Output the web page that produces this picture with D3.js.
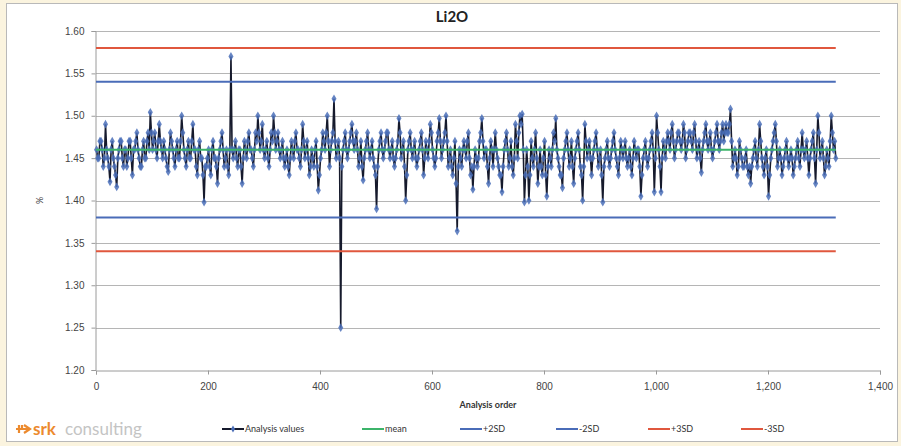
<!DOCTYPE html>
<html>
<head>
<meta charset="utf-8">
<script src="https://cdn.jsdelivr.net/npm/d3@7"></script>
<style>
  html, body { margin: 0; padding: 0; background: #fbf4df; }
  svg { display: block; font-family: Lato, "Liberation Sans", sans-serif; }
  .tick text { fill: #444; font-size: 10px; }
  .legend text { fill: #333; font-size: 9px; }
</style>
</head>
<body>
<div id="chart"></div>
<script>
// Li2O analysis values: odd readings 1, 5, 9, ... (every 4th)
var analysisValues = [
  1.46, 1.45, 1.47, 1.44, 1.49, 1.45, 1.422, 1.47, 1.44, 1.416,
  1.46, 1.47, 1.44, 1.46, 1.45, 1.47, 1.43, 1.46, 1.48, 1.45,
  1.44, 1.47, 1.45, 1.48, 1.504, 1.46, 1.48, 1.45, 1.49, 1.46,
  1.47, 1.45, 1.434, 1.48, 1.46, 1.44, 1.47, 1.45, 1.50, 1.46,
  1.44, 1.47, 1.45, 1.49, 1.46, 1.43, 1.47, 1.45, 1.398, 1.44,
  1.46, 1.43, 1.47, 1.45, 1.42, 1.46, 1.48, 1.44, 1.46, 1.43,
  1.57, 1.45, 1.47, 1.44, 1.46, 1.42, 1.47, 1.45, 1.48, 1.46,
  1.44, 1.48, 1.50, 1.46, 1.49, 1.45, 1.47, 1.44, 1.48, 1.50,
  1.46, 1.48, 1.45, 1.47, 1.44, 1.46, 1.43, 1.47, 1.45, 1.48,
  1.46, 1.44, 1.49, 1.45, 1.47, 1.43, 1.46, 1.44, 1.47, 1.412,
  1.45, 1.48, 1.46, 1.50, 1.44, 1.47, 1.52, 1.45, 1.47, 1.25,
  1.46, 1.48, 1.45, 1.47, 1.49, 1.46, 1.48, 1.44, 1.47, 1.424,
  1.46, 1.48, 1.45, 1.47, 1.44, 1.39, 1.46, 1.48, 1.45, 1.47,
  1.48, 1.45, 1.47, 1.44, 1.46, 1.497, 1.45, 1.47, 1.40, 1.46,
  1.48, 1.45, 1.47, 1.44, 1.46, 1.48, 1.43, 1.47, 1.45, 1.49,
  1.46, 1.44, 1.47, 1.497, 1.45, 1.47, 1.50, 1.44, 1.46, 1.43,
  1.47, 1.364, 1.46, 1.44, 1.47, 1.45, 1.48, 1.43, 1.413, 1.46,
  1.44, 1.47, 1.497, 1.45, 1.46, 1.42, 1.47, 1.44, 1.48, 1.45,
  1.43, 1.41, 1.46, 1.48, 1.44, 1.47, 1.43, 1.49, 1.45, 1.50,
  1.502, 1.398, 1.46, 1.40, 1.47, 1.44, 1.48, 1.42, 1.46, 1.43,
  1.47, 1.405, 1.46, 1.44, 1.48, 1.497, 1.45, 1.43, 1.415, 1.46,
  1.48, 1.44, 1.47, 1.42, 1.46, 1.48, 1.44, 1.40, 1.49, 1.45,
  1.47, 1.43, 1.46, 1.48, 1.44, 1.46, 1.398, 1.45, 1.47, 1.44,
  1.46, 1.48, 1.45, 1.43, 1.47, 1.45, 1.47, 1.44, 1.46, 1.43,
  1.47, 1.45, 1.46, 1.405, 1.45, 1.47, 1.44, 1.46, 1.48, 1.41,
  1.50, 1.46, 1.41, 1.47, 1.45, 1.48, 1.46, 1.49, 1.45, 1.47,
  1.48, 1.46, 1.49, 1.45, 1.47, 1.48, 1.46, 1.49, 1.45, 1.47,
  1.433, 1.47, 1.49, 1.46, 1.48, 1.45, 1.47, 1.49, 1.46, 1.48,
  1.47, 1.49, 1.48, 1.508, 1.44, 1.46, 1.43, 1.47, 1.45, 1.44,
  1.46, 1.43, 1.42, 1.45, 1.47, 1.44, 1.49, 1.45, 1.43, 1.46,
  1.405, 1.45, 1.47, 1.49, 1.44, 1.46, 1.43, 1.45, 1.47, 1.44,
  1.46, 1.43, 1.45, 1.47, 1.44, 1.48, 1.45, 1.47, 1.43, 1.46,
  1.48, 1.42, 1.50, 1.45, 1.47, 1.43, 1.46, 1.44, 1.50, 1.46,
  1.45
]
// in-between readings 3, 7, 11, ... (the blue band around the mean)
var analysisValuesMid = [
  1.45, 1.47, 1.46, 1.45, 1.46, 1.44, 1.46, 1.45, 1.43, 1.45,
  1.47, 1.45, 1.46, 1.44, 1.47, 1.45, 1.46, 1.47, 1.46, 1.44,
  1.46, 1.45, 1.47, 1.46, 1.48, 1.47, 1.46, 1.47, 1.47, 1.45,
  1.46, 1.44, 1.46, 1.47, 1.45, 1.46, 1.45, 1.47, 1.48, 1.45,
  1.46, 1.45, 1.47, 1.46, 1.44, 1.46, 1.45, 1.43, 1.44, 1.45,
  1.44, 1.46, 1.45, 1.44, 1.45, 1.47, 1.46, 1.45, 1.44, 1.46,
  1.46, 1.46, 1.45, 1.46, 1.44, 1.45, 1.46, 1.47, 1.46, 1.45,
  1.46, 1.47, 1.48, 1.47, 1.46, 1.46, 1.45, 1.46, 1.47, 1.48,
  1.47, 1.46, 1.46, 1.45, 1.45, 1.44, 1.45, 1.46, 1.47, 1.46,
  1.45, 1.46, 1.47, 1.46, 1.45, 1.44, 1.45, 1.46, 1.44, 1.43,
  1.46, 1.47, 1.48, 1.47, 1.46, 1.48, 1.47, 1.46, 1.45, 1.44,
  1.47, 1.46, 1.46, 1.48, 1.47, 1.47, 1.46, 1.45, 1.44, 1.45,
  1.47, 1.46, 1.46, 1.45, 1.43, 1.44, 1.47, 1.46, 1.46, 1.48,
  1.46, 1.46, 1.45, 1.45, 1.47, 1.48, 1.46, 1.44, 1.43, 1.47,
  1.46, 1.46, 1.45, 1.45, 1.47, 1.46, 1.45, 1.46, 1.47, 1.48,
  1.45, 1.45, 1.48, 1.47, 1.46, 1.48, 1.47, 1.45, 1.44, 1.45,
  1.42, 1.44, 1.45, 1.46, 1.46, 1.47, 1.45, 1.44, 1.44, 1.45,
  1.45, 1.48, 1.47, 1.46, 1.44, 1.45, 1.46, 1.46, 1.46, 1.44,
  1.43, 1.44, 1.47, 1.46, 1.45, 1.44, 1.45, 1.47, 1.48, 1.49,
  1.46, 1.43, 1.44, 1.43, 1.45, 1.46, 1.45, 1.44, 1.44, 1.45,
  1.43, 1.44, 1.45, 1.46, 1.47, 1.46, 1.44, 1.43, 1.45, 1.47,
  1.46, 1.45, 1.44, 1.45, 1.47, 1.46, 1.43, 1.44, 1.47, 1.46,
  1.45, 1.45, 1.47, 1.46, 1.45, 1.43, 1.44, 1.46, 1.45, 1.45,
  1.47, 1.46, 1.44, 1.45, 1.46, 1.46, 1.45, 1.45, 1.44, 1.45,
  1.46, 1.46, 1.44, 1.43, 1.46, 1.45, 1.45, 1.47, 1.46, 1.45,
  1.48, 1.44, 1.45, 1.46, 1.47, 1.47, 1.48, 1.47, 1.46, 1.48,
  1.47, 1.47, 1.48, 1.46, 1.48, 1.47, 1.48, 1.47, 1.46, 1.45,
  1.46, 1.48, 1.47, 1.47, 1.46, 1.46, 1.48, 1.47, 1.47, 1.49,
  1.48, 1.48, 1.49, 1.47, 1.45, 1.45, 1.44, 1.46, 1.44, 1.45,
  1.44, 1.44, 1.44, 1.46, 1.45, 1.46, 1.47, 1.44, 1.45, 1.44,
  1.43, 1.46, 1.48, 1.47, 1.45, 1.45, 1.44, 1.46, 1.45, 1.45,
  1.45, 1.44, 1.46, 1.45, 1.46, 1.46, 1.46, 1.45, 1.45, 1.47,
  1.45, 1.46, 1.48, 1.46, 1.45, 1.44, 1.45, 1.47, 1.48, 1.47
]
var analysisStep = 4

// control lines
var refLabels = ["mean", "+2SD", "-2SD", "+3SD", "-3SD"]
var refValues = [1.46, 1.54, 1.38, 1.58, 1.34]

var yTicks = [1.20, 1.25, 1.30, 1.35, 1.40, 1.45, 1.50, 1.55, 1.60]
var xTicks = [0, 200, 400, 600, 800, 1000, 1200, 1400]

var width = 901, height = 446
var margin = { left: 96, right: 21, top: 31, bottom: 76 }
var refColors = ["#3cb46a", "#4a6cb8", "#4a6cb8", "#e0573e", "#e0573e"]

var svg = d3.select("#chart").append("svg")
  .attr("width", width)
  .attr("height", height)

// chart frame
svg.append("rect")
  .attr("x", 6.5).attr("y", 3.5)
  .attr("width", 891).attr("height", 438)
  .attr("fill", "#ffffff")
  .attr("stroke", "#b9b9b9")

var x = d3.scaleLinear().domain([0, 1400]).range([margin.left, width - margin.right])
var y = d3.scaleLinear().domain([1.20, 1.60]).range([height - margin.bottom, margin.top])

// gridlines
svg.append("g")
  .selectAll("line")
  .data(yTicks.slice(1))
  .join("line")
    .attr("x1", x(0)).attr("x2", x(1400))
    .attr("y1", function (d) { return Math.round(y(d)) + 0.5 })
    .attr("y2", function (d) { return Math.round(y(d)) + 0.5 })
    .attr("stroke", "#b5b5b5")
    .attr("stroke-width", 1)

// axes
svg.append("g")
  .attr("transform", "translate(" + (x(0) - 0.5) + ",0)")
  .call(d3.axisLeft(y).tickValues(yTicks).tickFormat(d3.format(".2f")).tickSize(4).tickPadding(7))
svg.append("g")
  .attr("transform", "translate(0," + (Math.round(y(1.20)) + 0.5) + ")")
  .call(d3.axisBottom(x).tickValues(xTicks).tickFormat(d3.format(",")).tickSize(4).tickPadding(8))
svg.selectAll(".domain").attr("stroke", "#9a9a9a")
svg.selectAll(".tick line").attr("stroke", "#9a9a9a")

// analysis series: interleave both sets of readings in analysis order
var points = []
analysisValues.forEach(function (v, i) {
  points.push([1 + i * analysisStep, v])
  if (i < analysisValuesMid.length) points.push([3 + i * analysisStep, analysisValuesMid[i]])
})
var lastAnalysis = points[points.length - 1][0]

var line = d3.line()
  .x(function (d) { return x(d[0]) })
  .y(function (d) { return y(d[1]) })

svg.append("path")
  .datum(points)
  .attr("fill", "none")
  .attr("stroke", "#161a2c")
  .attr("stroke-width", 1.6)
  .attr("d", line)

svg.append("g")
  .selectAll("path")
  .data(points)
  .join("path")
    .attr("transform", function (d) { return "translate(" + x(d[0]) + "," + y(d[1]) + ")" })
    .attr("d", d3.symbol(d3.symbolDiamond, 22))
    .attr("fill", "#4a6eb8")
    .attr("opacity", 0.85)

// control lines over the data
svg.append("g")
  .selectAll("line")
  .data(refValues)
  .join("line")
    .attr("x1", x(0)).attr("x2", x(lastAnalysis))
    .attr("y1", function (d) { return y(d) })
    .attr("y2", function (d) { return y(d) })
    .attr("stroke", function (d, i) { return refColors[i] })
    .attr("stroke-width", 2)

// title and axis labels
svg.append("text")
  .attr("x", 452).attr("y", 22)
  .attr("text-anchor", "middle")
  .attr("font-size", 15).attr("font-weight", "bold")
  .attr("fill", "#222")
  .text("Li2O")

svg.append("text")
  .attr("x", (x(0) + x(1400)) / 2).attr("y", 408)
  .attr("text-anchor", "middle")
  .attr("font-size", 9).attr("font-weight", "bold")
  .attr("fill", "#333")
  .text("Analysis order")

svg.append("text")
  .attr("transform", "translate(43," + y(1.40) + ") rotate(-90)")
  .attr("text-anchor", "middle")
  .attr("font-size", 9)
  .attr("fill", "#444")
  .text("%")

// legend
var legendX = [222, 362, 460, 556, 648, 741]
var legendLabels = ["Analysis values"].concat(refLabels)
var legendColors = ["#161a2c"].concat(refColors)
var legend = svg.append("g").attr("class", "legend")
legendLabels.forEach(function (label, i) {
  var g = legend.append("g").attr("transform", "translate(" + legendX[i] + ",429)")
  g.append("line")
    .attr("x1", 0).attr("x2", 22).attr("y1", 0).attr("y2", 0)
    .attr("stroke", legendColors[i]).attr("stroke-width", 2)
  if (i == 0) {
    g.append("path").attr("transform", "translate(11,0)")
      .attr("d", d3.symbol(d3.symbolDiamond, 14)).attr("fill", "#4a6eb8")
  }
  g.append("text").attr("x", 23).attr("y", 3).text(label)
})

// srk logo
var logo = svg.append("g").attr("transform", "translate(16,429)")
logo.append("path")
  .attr("d", "M0,0 L14,0 M8,-4 L14,0 L8,4 M3,-4 L3,-1 M6,-4 L6,-1 M3,1 L3,4")
  .attr("stroke", "#ec8a2e").attr("stroke-width", 2.2).attr("fill", "none")
logo.append("text")
  .attr("x", 17).attr("y", 6)
  .attr("font-size", 17).attr("font-weight", "bold")
  .attr("fill", "#ec8a2e")
  .text("srk")
logo.append("text")
  .attr("x", 49).attr("y", 6)
  .attr("font-size", 17)
  .attr("fill", "#c4c4c4")
  .text("consulting")
</script>
</body>
</html>
